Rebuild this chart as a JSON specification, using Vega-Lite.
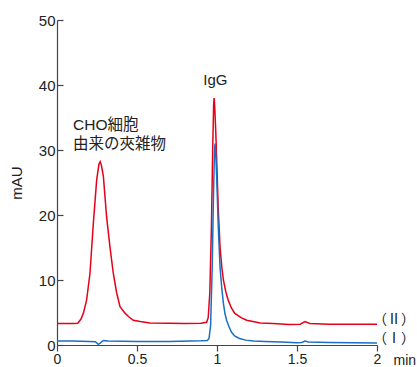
{
  "$schema": "https://vega.github.io/schema/vega-lite/v6.json",
  "width": 320,
  "height": 325,
  "autosize": {"type": "none"},
  "padding": {"left": 57, "top": 20, "right": 40, "bottom": 22},
  "background": "white",
  "config": {
    "view": {"stroke": null},
    "font": "Liberation Sans",
    "axis": {"domainColor": "#444", "tickColor": "#444", "labelColor": "#222", "titleColor": "#222", "labelFont": "Liberation Sans", "titleFont": "Liberation Sans", "labelFontSize": 15, "titleFontSize": 15, "titleFontWeight": "normal", "grid": false, "domainWidth": 1.2, "tickWidth": 1.2}
  },
  "datasets": {
    "lines": [
      {"s": "II", "t": 0, "v": 3.3}, {"s": "II", "t": 0.05, "v": 3.3}, {"s": "II", "t": 0.1, "v": 3.3}, {"s": "II", "t": 0.13, "v": 3.35},
      {"s": "II", "t": 0.15, "v": 4.0}, {"s": "II", "t": 0.165, "v": 4.9}, {"s": "II", "t": 0.185, "v": 6.9}, {"s": "II", "t": 0.206, "v": 11},
      {"s": "II", "t": 0.227, "v": 18.7}, {"s": "II", "t": 0.248, "v": 25.4}, {"s": "II", "t": 0.262, "v": 27.8}, {"s": "II", "t": 0.27, "v": 28.2},
      {"s": "II", "t": 0.278, "v": 27.6}, {"s": "II", "t": 0.29, "v": 25.9}, {"s": "II", "t": 0.31, "v": 19.7}, {"s": "II", "t": 0.331, "v": 15.1},
      {"s": "II", "t": 0.352, "v": 11}, {"s": "II", "t": 0.373, "v": 8}, {"s": "II", "t": 0.394, "v": 5.9}, {"s": "II", "t": 0.425, "v": 4.9},
      {"s": "II", "t": 0.45, "v": 4.3}, {"s": "II", "t": 0.477, "v": 3.8}, {"s": "II", "t": 0.52, "v": 3.6}, {"s": "II", "t": 0.58, "v": 3.4},
      {"s": "II", "t": 0.7, "v": 3.35}, {"s": "II", "t": 0.8, "v": 3.3}, {"s": "II", "t": 0.9, "v": 3.35}, {"s": "II", "t": 0.935, "v": 3.5},
      {"s": "II", "t": 0.945, "v": 4.2}, {"s": "II", "t": 0.955, "v": 8}, {"s": "II", "t": 0.965, "v": 18}, {"s": "II", "t": 0.973, "v": 30},
      {"s": "II", "t": 0.979, "v": 37}, {"s": "II", "t": 0.982, "v": 38}, {"s": "II", "t": 0.986, "v": 36.5}, {"s": "II", "t": 0.992, "v": 33},
      {"s": "II", "t": 0.998, "v": 28.5}, {"s": "II", "t": 1.008, "v": 20.8}, {"s": "II", "t": 1.019, "v": 15.1}, {"s": "II", "t": 1.03, "v": 12},
      {"s": "II", "t": 1.04, "v": 10}, {"s": "II", "t": 1.055, "v": 8.2}, {"s": "II", "t": 1.07, "v": 6.9}, {"s": "II", "t": 1.09, "v": 5.7},
      {"s": "II", "t": 1.11, "v": 4.9}, {"s": "II", "t": 1.15, "v": 4.2}, {"s": "II", "t": 1.186, "v": 3.8}, {"s": "II", "t": 1.27, "v": 3.4},
      {"s": "II", "t": 1.35, "v": 3.3}, {"s": "II", "t": 1.45, "v": 3.15}, {"s": "II", "t": 1.52, "v": 3.2}, {"s": "II", "t": 1.55, "v": 3.6},
      {"s": "II", "t": 1.58, "v": 3.3}, {"s": "II", "t": 1.7, "v": 3.2}, {"s": "II", "t": 1.85, "v": 3.2}, {"s": "II", "t": 2.0, "v": 3.2},
      {"s": "I", "t": 0, "v": 0.6}, {"s": "I", "t": 0.1, "v": 0.6}, {"s": "I", "t": 0.2, "v": 0.55}, {"s": "I", "t": 0.24, "v": 0.5},
      {"s": "I", "t": 0.258, "v": 0.1}, {"s": "I", "t": 0.27, "v": 0.3}, {"s": "I", "t": 0.29, "v": 0.7}, {"s": "I", "t": 0.32, "v": 0.6},
      {"s": "I", "t": 0.5, "v": 0.55}, {"s": "I", "t": 0.7, "v": 0.55}, {"s": "I", "t": 0.9, "v": 0.65}, {"s": "I", "t": 0.94, "v": 0.7},
      {"s": "I", "t": 0.95, "v": 1.0}, {"s": "I", "t": 0.96, "v": 3}, {"s": "I", "t": 0.97, "v": 12}, {"s": "I", "t": 0.978, "v": 23},
      {"s": "I", "t": 0.984, "v": 29.5}, {"s": "I", "t": 0.9875, "v": 31}, {"s": "I", "t": 0.992, "v": 29.5}, {"s": "I", "t": 0.998, "v": 25.9},
      {"s": "I", "t": 1.008, "v": 18.2}, {"s": "I", "t": 1.019, "v": 12}, {"s": "I", "t": 1.03, "v": 8.7}, {"s": "I", "t": 1.04, "v": 6.4},
      {"s": "I", "t": 1.05, "v": 4.8}, {"s": "I", "t": 1.06, "v": 3.8}, {"s": "I", "t": 1.075, "v": 2.8}, {"s": "I", "t": 1.09, "v": 2.0},
      {"s": "I", "t": 1.11, "v": 1.4}, {"s": "I", "t": 1.14, "v": 1.0}, {"s": "I", "t": 1.18, "v": 0.75}, {"s": "I", "t": 1.23, "v": 0.6},
      {"s": "I", "t": 1.3, "v": 0.55}, {"s": "I", "t": 1.4, "v": 0.45}, {"s": "I", "t": 1.5, "v": 0.35}, {"s": "I", "t": 1.53, "v": 0.4},
      {"s": "I", "t": 1.55, "v": 0.6}, {"s": "I", "t": 1.57, "v": 0.45}, {"s": "I", "t": 1.7, "v": 0.4}, {"s": "I", "t": 1.85, "v": 0.35},
      {"s": "I", "t": 2.0, "v": 0.3}
    ],
    "notes": [
      {"t": 0.1, "v": 33.8, "label": ["CHO細胞", "由来の夾雑物"]}
    ],
    "peaks": [
      {"t": 0.99, "v": 40.8, "label": "IgG"}
    ],
    "tags": [
      {"t": 2.0, "v": 3.85, "label": "（Ⅱ）"},
      {"t": 2.0, "v": 0.9, "label": "（Ⅰ）"}
    ]
  },
  "layer": [
    {
      "data": {"name": "lines"},
      "mark": {"type": "line", "strokeWidth": 1.5, "clip": true},
      "encoding": {
        "x": {"field": "t", "type": "quantitative", "scale": {"domain": [0, 2], "nice": false},
          "axis": {"title": "min", "values": [0, 0.25, 0.5, 0.75, 1, 1.25, 1.5, 1.75, 2], "format": "~g", "labelExpr": "datum.value % 0.5 === 0 ? datum.label : ''", "tickSize": 6, "labelPadding": 1, "labelFontSize": 14, "titleFontSize": 14, "titleX": 336, "titleY": 19, "titleAnchor": "start", "titleAlign": "left", "titleBaseline": "alphabetic", "labelFlush": false}},
        "y": {"field": "v", "type": "quantitative", "scale": {"domain": [0, 50], "nice": false},
          "axis": {"title": "mAU", "values": [0, 10, 20, 30, 40, 50], "tickSize": -6, "labelPadding": 8, "titleX": -33, "labelFlush": false}},
        "color": {"field": "s", "type": "nominal", "scale": {"domain": ["I", "II"], "range": ["#1a6fc2", "#e60019"]}, "legend": null}
      }
    },
    {
      "data": {"name": "notes"},
      "mark": {"type": "text", "fontSize": 15.5, "font": "Liberation Sans, Noto Sans CJK JP", "align": "left", "baseline": "middle", "lineHeight": 19, "color": "#222"},
      "encoding": {
        "x": {"field": "t", "type": "quantitative"},
        "y": {"field": "v", "type": "quantitative"},
        "text": {"field": "label"}
      }
    },
    {
      "data": {"name": "peaks"},
      "mark": {"type": "text", "fontSize": 15, "font": "Liberation Sans", "align": "center", "baseline": "middle", "color": "#222"},
      "encoding": {
        "x": {"field": "t", "type": "quantitative"},
        "y": {"field": "v", "type": "quantitative"},
        "text": {"field": "label"}
      }
    },
    {
      "data": {"name": "tags"},
      "mark": {"type": "text", "fontSize": 14, "font": "Noto Sans CJK JP", "align": "left", "baseline": "middle", "dx": -4, "color": "#222"},
      "encoding": {
        "x": {"field": "t", "type": "quantitative"},
        "y": {"field": "v", "type": "quantitative"},
        "text": {"field": "label"}
      }
    }
  ]
}
